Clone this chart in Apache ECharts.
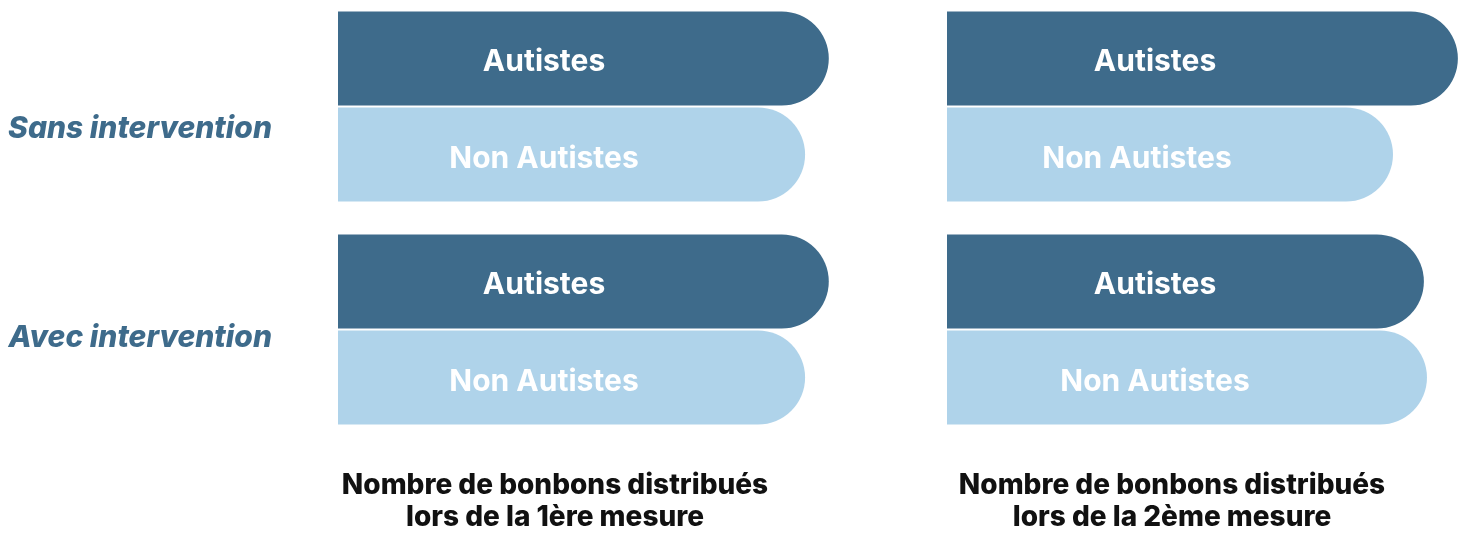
<!DOCTYPE html>
<html>
<head>
<meta charset="utf-8">
<script src="https://cdn.jsdelivr.net/npm/echarts@6/dist/echarts.min.js"></script>
<style>
html,body{margin:0;padding:0;background:#fff;}
#c{width:1463px;height:533px;}
</style>
</head>
<body>
<div id="c"></div>
<script>
// ---- data ----
const categories = ['Sans intervention', 'Avec intervention'];
const seriesNames = ['Autistes', 'Non Autistes'];
// mesure 1
const m1Autistes = [95.3, 95.3];
const m1NonAutistes = [90.7, 90.7];
// mesure 2
const m2Autistes = [99.2, 92.6];
const m2NonAutistes = [86.6, 93.2];
const panelTitles = [
  'Nombre de bonbons distribués\nlors de la 1ère mesure',
  'Nombre de bonbons distribués\nlors de la 2ème mesure'
];

// ---- styling ----
const DARK = '#3e6b8b';
const LIGHT = '#afd3ea';
const colors = [DARK, LIGHT];
const BAR_W = 94;

const chart = echarts.init(document.getElementById('c'));

const grids = [
  { left: 338, width: 515, top: -5, height: 446, outerBoundsMode: 'none', containLabel: false },
  { left: 947, width: 515, top: -5, height: 446, outerBoundsMode: 'none', containLabel: false }
];

const xAxes = grids.map((g, i) => ({
  type: 'value', gridIndex: i, min: 0, max: 100,
  show: false, splitLine: { show: false }
}));

const catFont = { fontFamily: 'Inter', fontWeight: 800, fontStyle: 'italic', fontSize: 30, color: DARK };
const yAxes = grids.map((g, i) => ({
  type: 'category', gridIndex: i, data: categories, inverse: true,
  axisLine: { show: false }, axisTick: { show: false }, splitLine: { show: false },
  axisLabel: i === 0 ? {
    show: true, margin: 66, align: 'right',
    formatter: (v, idx) => idx === 0 ? '{s|' + v + '}' : '{a|' + v + '}',
    rich: {
      s: Object.assign({ padding: [44, 0, 0, 0] }, catFont),
      a: Object.assign({ padding: [16, 0, 0, 0] }, catFont)
    }
  } : { show: false }
}));

// label x-centre measured from bar start, per panel / series / category
const labelX = [
  [[206, 206], [206, 206]],
  [[208, 208], [190, 208]]
];

const panelData = [[m1Autistes, m1NonAutistes], [m2Autistes, m2NonAutistes]];
const series = [];
panelData.forEach((pair, p) => {
  pair.forEach((vals, s) => {
    series.push({
      type: 'bar', name: seriesNames[s], xAxisIndex: p, yAxisIndex: p,
      barWidth: BAR_W, barGap: '2.2%',
      itemStyle: { color: colors[s], borderRadius: [0, BAR_W / 2, BAR_W / 2, 0] },
      data: vals.map((v, c) => ({
        value: v,
        label: { position: [labelX[p][s][c], '50%'] }
      })),
      label: {
        show: true, formatter: seriesNames[s],
        align: 'center', verticalAlign: 'middle', offset: [0, 4],
        color: '#ffffff', fontFamily: 'Inter', fontWeight: 'bold', fontSize: 30
      },
      emphasis: { disabled: true },
      silent: true
    });
  });
});

const titles = panelTitles.map((t, i) => ({
  text: t,
  left: i === 0 ? 555 : 1172,
  top: 470,
  padding: 0,
  textAlign: 'center',
  textStyle: { fontFamily: 'Inter', fontWeight: 800, fontSize: 28, color: '#111111', lineHeight: 32, align: 'center' }
}));

chart.setOption({
  animation: false,
  backgroundColor: '#ffffff',
  title: titles,
  grid: grids,
  xAxis: xAxes,
  yAxis: yAxes,
  series: series
});
</script>
</body>
</html>
